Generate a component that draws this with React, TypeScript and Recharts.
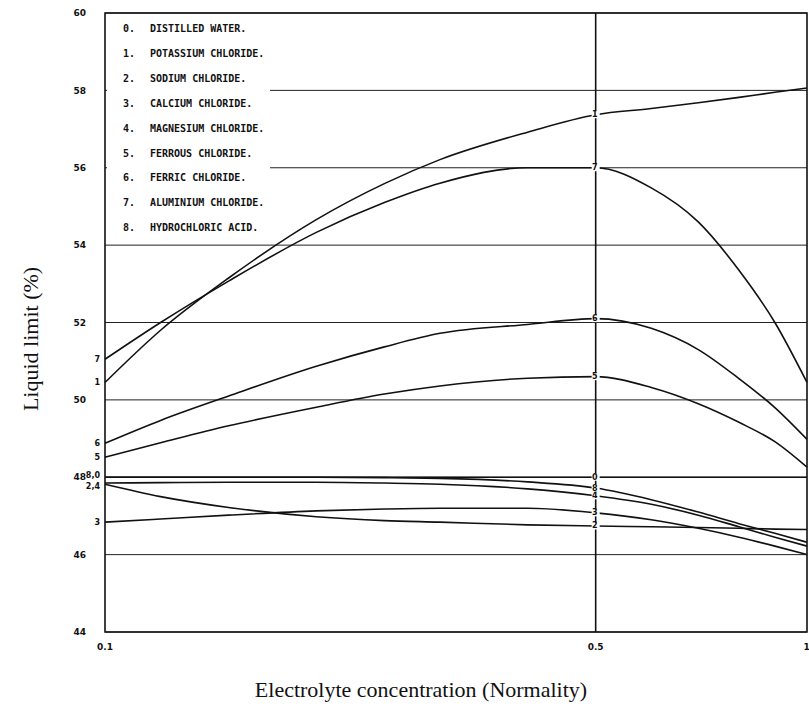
import React from 'react';
import { LineChart, Line, XAxis, YAxis, CartesianGrid, ReferenceLine, ReferenceArea, Legend, Label } from 'recharts';

// electrolyte concentration (normality), log axis
const CONC = [0.1, 0.12, 0.15, 0.2, 0.25, 0.3, 0.4, 0.5, 0.6, 0.7, 0.8, 0.9, 1];

// liquid limit (%)
const WATER = [48, 48, 48, 48, 48, 48, 48, 48, 48, 48, 48, 48, 48];
const POTASSIUM = [50.45, 51.8, 53.15, 54.66, 55.59, 56.21, 56.92, 57.37, 57.53, 57.68, 57.82, 57.95, 58.06];
const SODIUM = [47.82, 47.5, 47.22, 46.98, 46.88, 46.84, 46.77, 46.74, 46.72, 46.7, 46.68, 46.66, 46.65];
const CALCIUM = [46.84, 46.92, 47.02, 47.13, 47.18, 47.2, 47.2, 47.08, 46.9, 46.68, 46.45, 46.22, 46.0];
const MAGNESIUM = [47.85, 47.86, 47.87, 47.87, 47.85, 47.82, 47.7, 47.52, 47.3, 47.02, 46.72, 46.45, 46.22];
const FERROUS = [48.52, 48.89, 49.33, 49.81, 50.15, 50.36, 50.56, 50.6, 50.32, 49.9, 49.42, 48.92, 48.26];
const FERRIC = [48.88, 49.47, 50.1, 50.87, 51.37, 51.72, 51.95, 52.1, 51.85, 51.3, 50.55, 49.8, 48.98];
const ALUMINIUM = [51.05, 52.0, 53.07, 54.33, 55.1, 55.6, 56.0, 56.0, 55.48, 54.6, 53.35, 52.0, 50.45];
const HCL = [48, 48, 48, 48, 47.99, 47.97, 47.88, 47.72, 47.42, 47.1, 46.8, 46.55, 46.32];

const NAMES = [
  'DISTILLED WATER.',
  'POTASSIUM CHLORIDE.',
  'SODIUM CHLORIDE.',
  'CALCIUM CHLORIDE.',
  'MAGNESIUM CHLORIDE.',
  'FERROUS CHLORIDE.',
  'FERRIC CHLORIDE.',
  'ALUMINIUM CHLORIDE.',
  'HYDROCHLORIC ACID.',
];
const VALUES = [WATER, POTASSIUM, SODIUM, CALCIUM, MAGNESIUM, FERROUS, FERRIC, ALUMINIUM, HCL];

// curve numbers written at the left axis and on the 0.5 N line
const LEFT_TAGS = ['8,0', '1', '2,4', '3', '', '5', '6', '7', ''];
const MID_TAGS = ['0', '1', '2', '3', '4', '5', '6', '7', '8'];

const Y_TICKS = [44, 46, 48, 50, 52, 54, 56, 58, 60];
const X_TICKS = [0.1, 0.5, 1];
const MID_INDEX = CONC.indexOf(0.5);

const data = CONC.map((c, i) => {
  const row: any = { conc: c };
  VALUES.forEach((arr, s) => {
    row['s' + s] = arr[i];
  });
  return row;
});

const tagStyle = { fontFamily: '"DejaVu Sans", sans-serif', fontSize: 8, fontWeight: 700, fill: '#111' };

const makeTag = (s: number) => (props: any) => {
  const { cx, cy, index } = props;
  const k = `tag-${s}-${index}`;
  if (index === 0 && LEFT_TAGS[s]) {
    // the two stacked tags sit a few px apart
    const dy = s === 0 ? -2 : s === 2 ? 2 : 0;
    return (
      <text key={k} x={cx - 5} y={cy + dy} textAnchor="end" dominantBaseline="central" style={tagStyle}>
        {LEFT_TAGS[s]}
      </text>
    );
  }
  if (index === MID_INDEX && MID_TAGS[s]) {
    return (
      <g key={k}>
        <rect x={cx - 4} y={cy - 3.5} width={8} height={7} fill="#fff" />
        <text x={cx - 1} y={cy} textAnchor="middle" dominantBaseline="central" style={tagStyle}>
          {MID_TAGS[s]}
        </text>
      </g>
    );
  }
  return <g key={k} />;
};

const renderLegend = () => (
  <div
    style={{
      position: 'relative',
      width: '100%',
      height: '100%',
      background: '#fff',
      fontFamily: '"DejaVu Sans Mono", monospace',
      fontWeight: 700,
      fontSize: 10,
      color: '#111',
    }}
  >
    {NAMES.map((n, i) => (
      <div key={n} style={{ position: 'absolute', left: 16, top: 8 + i * 24.9, display: 'flex', whiteSpace: 'nowrap' }}>
        <span style={{ width: 27 }}>{i}.</span>
        <span>{n}</span>
      </div>
    ))}
  </div>
);

export default function App() {
  return (
    <div style={{ position: 'absolute', left: 0, top: 0, background: '#fff' }}>
      <LineChart width={809} height={711} data={data} margin={{ top: 13, right: 2, bottom: 19, left: 0 }}>
        <CartesianGrid vertical={false} stroke="#222" strokeWidth={1} />
        <XAxis
          dataKey="conc"
          type="number"
          scale="log"
          domain={[0.1, 1]}
          ticks={X_TICKS}
          height={60}
          axisLine={false}
          tickLine={false}
          tickSize={0}
          tickMargin={12}
          tick={{ fontSize: 9, fontWeight: 700, fill: '#111', fontFamily: '"DejaVu Sans", sans-serif' }}
        >
          <Label
            content={() => (
              <text x={421} y={697} textAnchor="middle" style={{ fontFamily: '"Liberation Serif", serif', fontSize: 22, fill: '#111' }}>
                Electrolyte concentration (Normality)
              </text>
            )}
          />
        </XAxis>
        <YAxis
          type="number"
          domain={[44, 60]}
          ticks={Y_TICKS}
          width={105}
          axisLine={false}
          tickLine={false}
          tickSize={0}
          tickMargin={19}
          tick={{ fontSize: 9, fontWeight: 700, fill: '#111', fontFamily: '"DejaVu Sans", sans-serif' }}
        >
          <Label
            content={() => (
              <text
                x={38}
                y={339}
                textAnchor="middle"
                transform="rotate(-90, 38, 339)"
                style={{ fontFamily: '"Liberation Serif", serif', fontSize: 22, fill: '#111' }}
              >
                Liquid limit (%)
              </text>
            )}
          />
        </YAxis>
        <ReferenceArea x1={0.1} x2={1} y1={44} y2={60} fill="none" stroke="#111" strokeWidth={1.6} />
        <ReferenceLine x={0.5} stroke="#111" strokeWidth={1.6} />
        <Legend layout="vertical" align="center" verticalAlign="middle" content={renderLegend}
          wrapperStyle={{ left: 107, top: 15, width: 163, height: 227 }} />
        {VALUES.map((_, s) => (
          <Line
            key={'s' + s}
            dataKey={'s' + s}
            name={NAMES[s]}
            type="monotone"
            stroke="#111"
            strokeWidth={1.6}
            dot={makeTag(s)}
            activeDot={false}
            isAnimationActive={false}
          />
        ))}
      </LineChart>
    </div>
  );
}
